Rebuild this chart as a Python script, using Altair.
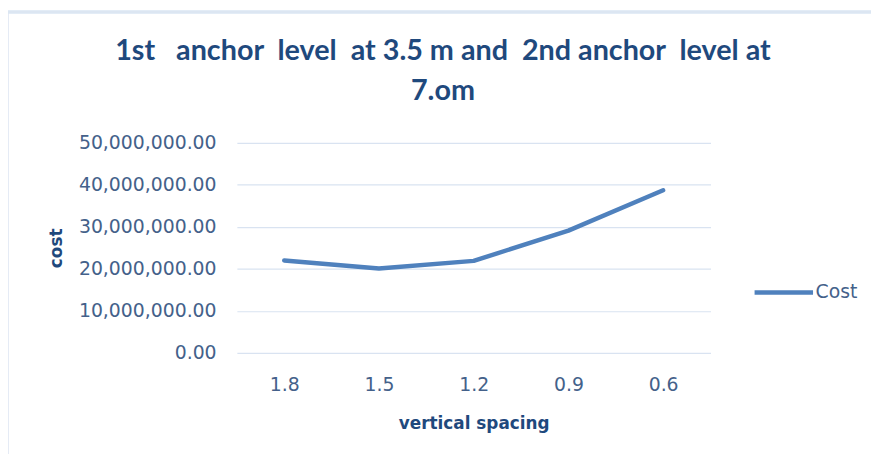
import altair as alt
import pandas as pd

categories = ["1.8", "1.5", "1.2", "0.9", "0.6"]
costs = [22000000, 20100000, 21900000, 29100000, 38700000]
series_name = ["Cost"] * len(categories)

df = pd.DataFrame({"spacing": categories, "cost": costs, "series": series_name})

TITLE_FONT = "Lato"
FONT = "DejaVu Sans"
TITLE_COLOR = "#1F497D"
LABEL_COLOR = "#44618A"
LINE_COLOR = "#4F81BD"
GRID_COLOR = "#D9E3F1"

title_lines = ["1st\u00a0\u00a0 anchor\u00a0 level\u00a0 at 3.5 m and\u00a0 2nd anchor\u00a0 level at", "7.om"]

line = alt.Chart(df).mark_line(strokeWidth=4.5, strokeCap="round", strokeJoin="round").encode(
    x=alt.X("spacing:N", sort=None,
            axis=alt.Axis(title="vertical spacing", labelAngle=0, labelPadding=23,
                          titlePadding=21, ticks=False, domain=False, grid=False)),
    y=alt.Y("cost:Q", scale=alt.Scale(domain=[0, 50000000], nice=False),
            axis=alt.Axis(title="cost", format=",.2f", values=[0, 10000000, 20000000, 30000000, 40000000, 50000000],
                          labelPadding=21, titlePadding=13, ticks=False, domain=False,
                          gridColor=GRID_COLOR, gridWidth=1.2)),
    color=alt.Color("series:N", title=None,
                    scale=alt.Scale(range=[LINE_COLOR]),
                    legend=alt.Legend(orient="none", legendX=520, legendY=119,
                                      symbolType="stroke", symbolSize=3480,
                                      symbolStrokeWidth=4.5, labelOffset=0,
                                      labelFontSize=19, labelColor=LABEL_COLOR, labelFont=FONT)),
)

frame = alt.Chart(df).mark_rect(fill=None, stroke="#DCE6F2", strokeWidth=2.5).encode(
    x=alt.value(-232), x2=alt.value(660), y=alt.value(-132), y2=alt.value(330)
)

chart = alt.layer(frame, line).properties(
    width=478, height=212,
    padding={"left": 231, "top": 134, "right": 162, "bottom": 100},
    autosize=alt.AutoSizeParams(type="none"),
    background="white",
    title=alt.Title(title_lines, anchor="middle", frame="group", dx=-31, offset=-96,
                    fontSize=29, font=TITLE_FONT, fontWeight="bold",
                    color=TITLE_COLOR, lineHeight=40),
).configure_view(stroke=None).configure_axis(
    labelFont=FONT, labelFontSize=19, labelColor=LABEL_COLOR,
    titleFont=FONT, titleFontSize=17, titleFontWeight="bold", titleColor=TITLE_COLOR,
)

chart.save("out.html", embed_options={"renderer": "svg", "actions": False})
